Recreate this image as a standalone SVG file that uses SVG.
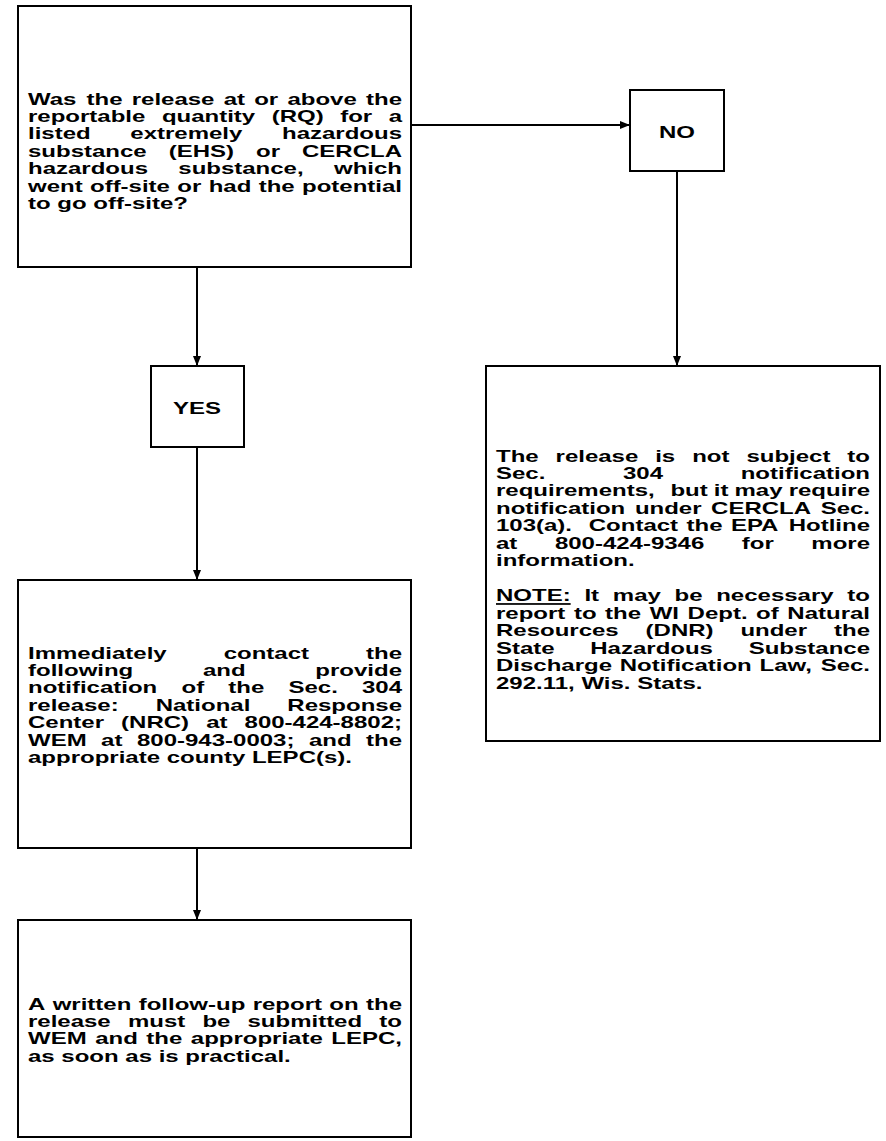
<svg xmlns="http://www.w3.org/2000/svg" width="886" height="1141" viewBox="0 0 886 1141">
<defs>
<style>
.box{fill:#fff;stroke:#000;stroke-width:2}
.t{font-family:"Liberation Sans",Arial,Helvetica,sans-serif;font-weight:bold;font-size:24px;fill:#000}
.c{text-anchor:middle}
.conn{stroke:#000;stroke-width:2;fill:none}
</style>
<marker id="ah" markerUnits="userSpaceOnUse" markerWidth="10" markerHeight="8" refX="10" refY="4" orient="auto">
<path d="M0,0 L10,4 L0,8 z" fill="#000"/>
</marker>
</defs>
<rect width="886" height="1141" fill="#fff"/>

<g id="connectors">
<line class="conn" x1="411" y1="125" x2="630" y2="125" marker-end="url(#ah)"/>
<line class="conn" x1="677" y1="171" x2="677" y2="366" marker-end="url(#ah)"/>
<line class="conn" x1="197" y1="267" x2="197" y2="366" marker-end="url(#ah)"/>
<line class="conn" x1="197" y1="447" x2="197" y2="580" marker-end="url(#ah)"/>
<line class="conn" x1="197" y1="848" x2="197" y2="920" marker-end="url(#ah)"/>
</g>

<g id="question">
<rect class="box" x="18" y="6" width="393" height="261"/>
<g transform="translate(0,104.5) scale(1,0.72)">
<text class="t" y="0"><tspan x="28">Was</tspan><tspan x="86.5">the</tspan><tspan x="131.7">release</tspan><tspan x="223.7">at</tspan><tspan x="254.2">or</tspan><tspan x="287.4">above</tspan><tspan x="402" text-anchor="end">the</tspan></text>
<text class="t" y="24.3"><tspan x="28">reportable</tspan><tspan x="161.9">quantity</tspan><tspan x="271.7">(RQ)</tspan><tspan x="340.2">for</tspan><tspan x="402" text-anchor="end">a</tspan></text>
<text class="t" y="48.6"><tspan x="28">listed</tspan><tspan x="130.3">extremely</tspan><tspan x="402" text-anchor="end">hazardous</tspan></text>
<text class="t" y="72.9"><tspan x="28">substance</tspan><tspan x="168.7">(EHS)</tspan><tspan x="256">or</tspan><tspan x="402" text-anchor="end">CERCLA</tspan></text>
<text class="t" y="97.2"><tspan x="28">hazardous</tspan><tspan x="178.3">substance,</tspan><tspan x="402" text-anchor="end">which</tspan></text>
<text class="t" y="121.5"><tspan x="28">went</tspan><tspan x="90">off-site</tspan><tspan x="177.3">or</tspan><tspan x="208.7">had</tspan><tspan x="258.7">the</tspan><tspan x="402" text-anchor="end">potential</tspan></text>
<text class="t" x="28" y="145.8">to go off-site?</text>
</g>
</g>

<g id="no">
<rect class="box" x="630" y="90" width="94" height="81"/>
<g transform="translate(677,137.5) scale(1,0.72)">
<text class="t c" x="0" y="0">NO</text>
</g>
</g>

<g id="not-subject">
<rect class="box" x="486" y="366" width="394" height="375"/>
<g transform="translate(0,461.5) scale(1,0.72)">
<text class="t" y="0"><tspan x="496">The</tspan><tspan x="555.6">release</tspan><tspan x="655.2">is</tspan><tspan x="692.2">not</tspan><tspan x="746.4">subject</tspan><tspan x="870" text-anchor="end">to</tspan></text>
<text class="t" y="24.3"><tspan x="496">Sec.</tspan><tspan x="623">304</tspan><tspan x="870" text-anchor="end">notification</tspan></text>
<text class="t" y="48.6"><tspan x="496">requirements,</tspan><tspan x="670.4">but</tspan><tspan x="713.8">it</tspan><tspan x="734.5">may</tspan><tspan x="870" text-anchor="end">require</tspan></text>
<text class="t" y="72.9"><tspan x="496">notification</tspan><tspan x="634.9">under</tspan><tspan x="711.1">CERCLA</tspan><tspan x="870" text-anchor="end">Sec.</tspan></text>
<text class="t" y="97.2"><tspan x="496">103(a).</tspan><tspan x="588.8">Contact</tspan><tspan x="686.5">the</tspan><tspan x="730.9">EPA</tspan><tspan x="870" text-anchor="end">Hotline</tspan></text>
<text class="t" y="121.5"><tspan x="496">at</tspan><tspan x="554.9">800-424-9346</tspan><tspan x="741.8">for</tspan><tspan x="870" text-anchor="end">more</tspan></text>
<text class="t" x="496" y="145.8">information.</text>
<text class="t" y="194.4"><tspan x="496" text-decoration="underline">NOTE:</tspan><tspan x="584.4">It</tspan><tspan x="612.8">may</tspan><tspan x="674.5">be</tspan><tspan x="716.2">necessary</tspan><tspan x="870" text-anchor="end">to</tspan></text>
<text class="t" y="218.7"><tspan x="496">report</tspan><tspan x="573.9">to</tspan><tspan x="605.1">the</tspan><tspan x="649.7">WI</tspan><tspan x="687.6">Dept.</tspan><tspan x="756.1">of</tspan><tspan x="870" text-anchor="end">Natural</tspan></text>
<text class="t" y="243"><tspan x="496">Resources</tspan><tspan x="645.6">(DNR)</tspan><tspan x="740.4">under</tspan><tspan x="870" text-anchor="end">the</tspan></text>
<text class="t" y="267.3"><tspan x="496">State</tspan><tspan x="590.3">Hazardous</tspan><tspan x="870" text-anchor="end">Substance</tspan></text>
<text class="t" y="291.6"><tspan x="496">Discharge</tspan><tspan x="619.8">Notification</tspan><tspan x="759.5">Law,</tspan><tspan x="870" text-anchor="end">Sec.</tspan></text>
<text class="t" x="496" y="315.9">292.11, Wis. Stats.</text>
</g>
</g>

<g id="yes">
<rect class="box" x="151" y="366" width="93" height="81"/>
<g transform="translate(197,413.5) scale(1,0.72)">
<text class="t c" x="0" y="0">YES</text>
</g>
</g>

<g id="notify">
<rect class="box" x="18" y="580" width="393" height="268"/>
<g transform="translate(0,658.5) scale(1,0.72)">
<text class="t" y="0"><tspan x="28">Immediately</tspan><tspan x="223.7">contact</tspan><tspan x="402" text-anchor="end">the</tspan></text>
<text class="t" y="24.3"><tspan x="28">following</tspan><tspan x="203">and</tspan><tspan x="402" text-anchor="end">provide</tspan></text>
<text class="t" y="48.6"><tspan x="28">notification</tspan><tspan x="181.5">of</tspan><tspan x="228.3">the</tspan><tspan x="288.5">Sec.</tspan><tspan x="402" text-anchor="end">304</tspan></text>
<text class="t" y="72.9"><tspan x="28">release:</tspan><tspan x="155.7">National</tspan><tspan x="402" text-anchor="end">Response</tspan></text>
<text class="t" y="97.2"><tspan x="28">Center</tspan><tspan x="121.1">(NRC)</tspan><tspan x="206.2">at</tspan><tspan x="402" text-anchor="end">800-424-8802;</tspan></text>
<text class="t" y="121.5"><tspan x="28">WEM</tspan><tspan x="101.1">at</tspan><tspan x="137">800-943-0003;</tspan><tspan x="308.9">and</tspan><tspan x="402" text-anchor="end">the</tspan></text>
<text class="t" x="28" y="145.8">appropriate county LEPC(s).</text>
</g>
</g>

<g id="follow-up">
<rect class="box" x="18" y="920" width="393" height="217"/>
<g transform="translate(0,1009.5) scale(1,0.72)">
<text class="t" y="0"><tspan x="28">A</tspan><tspan x="52.7">written</tspan><tspan x="138.7">follow-up</tspan><tspan x="252.7">report</tspan><tspan x="329.3">on</tspan><tspan x="402" text-anchor="end">the</tspan></text>
<text class="t" y="24.3"><tspan x="28">release</tspan><tspan x="127.9">must</tspan><tspan x="202.4">be</tspan><tspan x="247.5">submitted</tspan><tspan x="402" text-anchor="end">to</tspan></text>
<text class="t" y="48.6"><tspan x="28">WEM</tspan><tspan x="95.2">and</tspan><tspan x="146.3">the</tspan><tspan x="190.8">appropriate</tspan><tspan x="402" text-anchor="end">LEPC,</tspan></text>
<text class="t" x="28" y="72.9">as soon as is practical.</text>
</g>
</g>
</svg>
